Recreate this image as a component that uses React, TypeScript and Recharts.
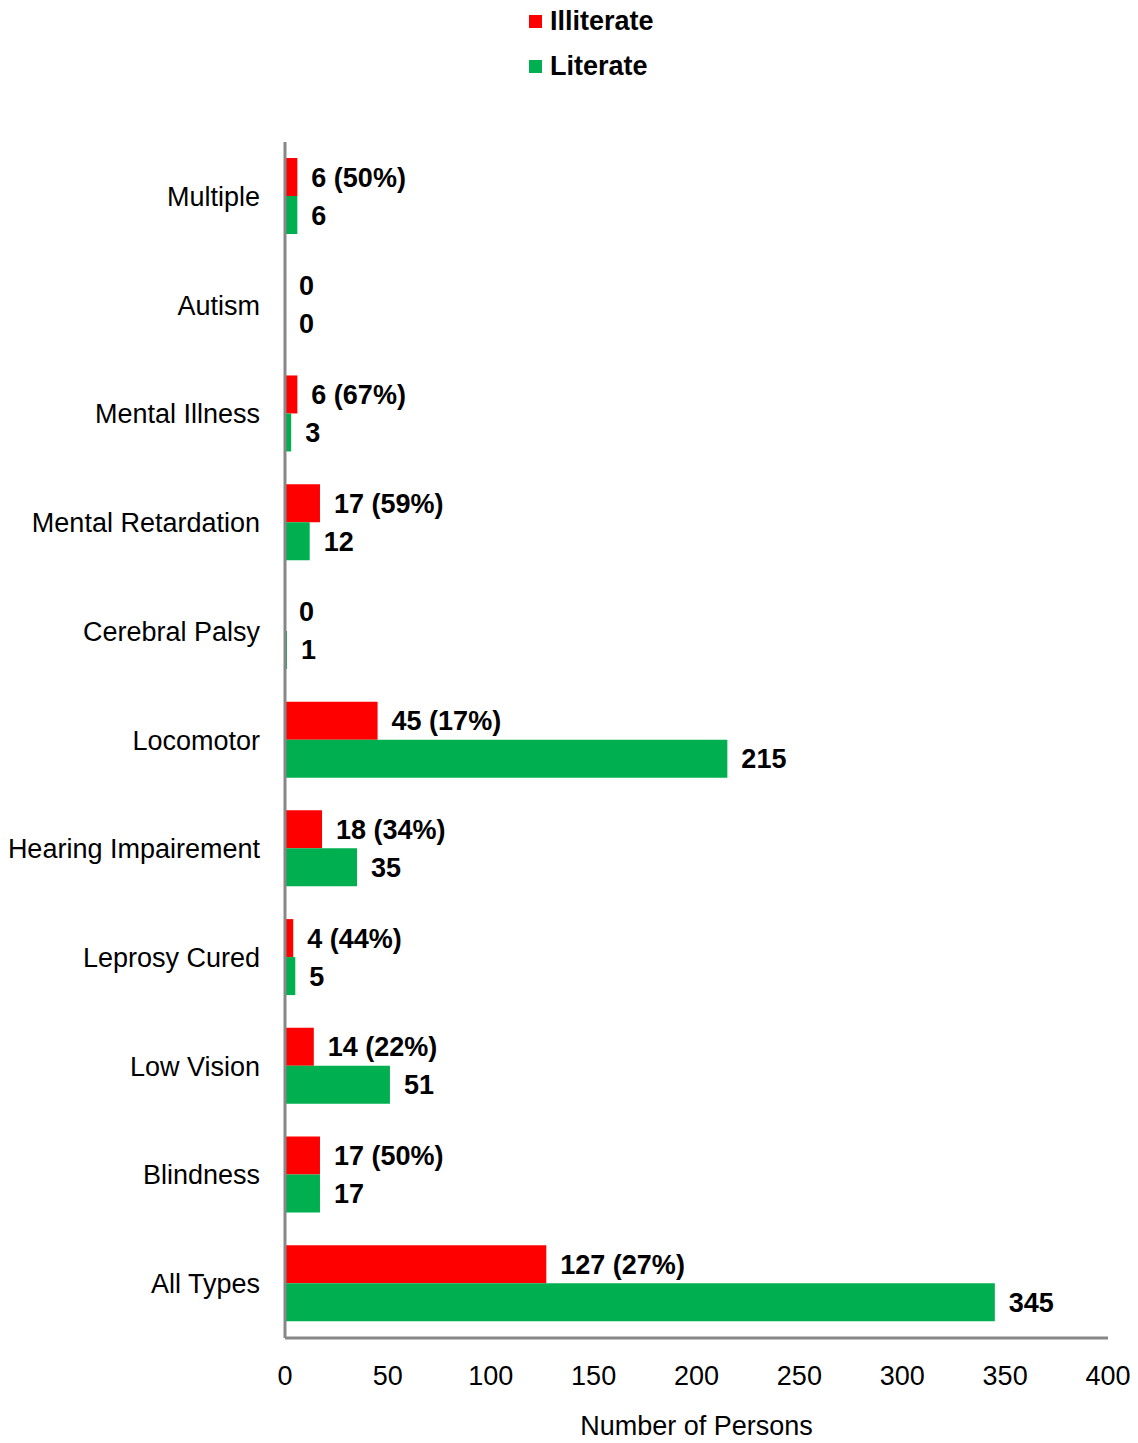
import React from "react";
import { BarChart, Bar, XAxis, YAxis, Legend, LabelList } from "recharts";

const categories = [
  "Multiple",
  "Autism",
  "Mental Illness",
  "Mental Retardation",
  "Cerebral Palsy",
  "Locomotor",
  "Hearing Impairement",
  "Leprosy Cured",
  "Low Vision",
  "Blindness",
  "All Types",
];
const illiterate = [6, 0, 6, 17, 0, 45, 18, 4, 14, 17, 127];
const literate = [6, 0, 3, 12, 1, 215, 35, 5, 51, 17, 345];
const illiteratePct: (number | null)[] = [50, null, 67, 59, null, 17, 34, 44, 22, 50, 27];
const xTicks = [0, 50, 100, 150, 200, 250, 300, 350, 400];

const RED = "#FF0000";
const GREEN = "#00B050";
const AXIS = "#878787";
const FONT = "'Liberation Sans', Arial, sans-serif";

const data = categories.map((name, i) => ({
  name,
  illiterate: illiterate[i],
  literate: literate[i],
  illLabel: illiteratePct[i] != null ? `${illiterate[i]} (${illiteratePct[i]}%)` : `${illiterate[i]}`,
}));

const legendItems = [
  { label: "Illiterate", color: RED },
  { label: "Literate", color: GREEN },
];

function LegendBox() {
  return (
    <div style={{ fontFamily: FONT, fontWeight: "bold", fontSize: 27, color: "#000" }}>
      {legendItems.map((it) => (
        <div key={it.label} style={{ display: "flex", alignItems: "center", height: 45 }}>
          <span style={{ width: 13, height: 13, background: it.color, marginRight: 8, display: "inline-block" }} />
          <span>{it.label}</span>
        </div>
      ))}
    </div>
  );
}

const labelStyle = { fontFamily: FONT, fontWeight: "bold", fontSize: 27, fill: "#000" };
const tickStyle = { fontFamily: FONT, fontSize: 27, fill: "#000" };

// keep zero-value bars in the layout so their "0" labels still get drawn
const zeroMin = (value: number) => (value === 0 ? 0.01 : 0);

export default function App() {
  return (
    <div style={{ position: "absolute", left: 0, top: 0, background: "#fff" }}>
      <BarChart
        width={1138}
        height={1443}
        data={data}
        layout="vertical"
        margin={{ top: 52, right: 30, bottom: 0, left: 0 }}
        barGap={0}
        barSize={38}
      >
        <XAxis
          type="number"
          domain={[0, 400]}
          ticks={xTicks}
          tickLine={false}
          tickSize={0}
          tickMargin={28}
          height={105}
          axisLine={{ stroke: AXIS, strokeWidth: 3 }}
          tick={tickStyle}
          label={{
            value: "Number of Persons",
            position: "insideBottom",
            offset: 8,
            style: tickStyle,
          }}
        />
        <YAxis
          type="category"
          dataKey="name"
          width={285}
          tickLine={false}
          tickSize={0}
          tickMargin={25}
          axisLine={{ stroke: AXIS, strokeWidth: 3 }}
          tick={tickStyle}
          interval={0}
        />
        <Legend
          verticalAlign="top"
          content={() => <LegendBox />}
          wrapperStyle={{ top: -1, left: 529, width: 220 }}
        />
        <Bar dataKey="illiterate" name="Illiterate" fill={RED} minPointSize={zeroMin} isAnimationActive={false}>
          <LabelList dataKey="illLabel" position="right" offset={14} style={labelStyle} />
        </Bar>
        <Bar dataKey="literate" name="Literate" fill={GREEN} minPointSize={zeroMin} isAnimationActive={false}>
          <LabelList dataKey="literate" position="right" offset={14} style={labelStyle} />
        </Bar>
      </BarChart>
    </div>
  );
}
